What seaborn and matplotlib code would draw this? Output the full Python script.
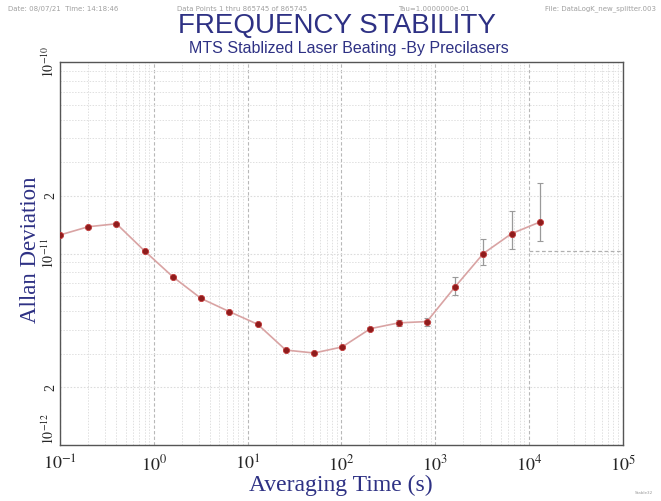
import numpy as np
import pandas as pd
import matplotlib
matplotlib.use("Agg")
import matplotlib.pyplot as plt
import matplotlib.ticker as mticker
import seaborn as sns

# ---- data ----
tau = [0.1, 0.2, 0.4, 0.8, 1.6, 3.2, 6.4, 12.8, 25.6, 51.2, 102.4, 204.8,
       409.6, 819.2, 1638.4, 3276.8, 6553.6, 13107.2]
adev = [1.25e-11, 1.38e-11, 1.43e-11, 1.03e-11, 7.55e-12, 5.82e-12, 4.97e-12,
        4.27e-12, 3.13e-12, 3.02e-12, 3.25e-12, 4.05e-12, 4.34e-12, 4.41e-12,
        6.70e-12, 1.00e-11, 1.27e-11, 1.46e-11]
err_lo = [0, 0, 0, 0, 0, 0, 0, 0, 0, 0, 0.03e-12, 0.06e-12, 0.15e-12, 0.21e-12,
          0.61e-12, 1.25e-12, 0.21e-11, 0.30e-11]
err_hi = [0, 0, 0, 0, 0, 0, 0, 0, 0, 0, 0.03e-12, 0.06e-12, 0.15e-12, 0.21e-12,
          0.82e-12, 1.9e-12, 0.40e-11, 0.88e-11]
ref_level = 1.03e-11
ref_range = [1e4, 1e5]

x_ticks = [1e-1, 1e0, 1e1, 1e2, 1e3, 1e4, 1e5]
x_labels = [r"$10^{-1}$", r"$10^{0}$", r"$10^{1}$", r"$10^{2}$", r"$10^{3}$",
            r"$10^{4}$", r"$10^{5}$"]
y_ticks = [1e-12, 2e-12, 1e-11, 2e-11, 1e-10]
y_labels = [r"$10^{-12}$", "2", r"$10^{-11}$", "2", r"$10^{-10}$"]

header = ["Date: 08/07/21  Time: 14:18:46",
          "Data Points 1 thru 865745 of 865745",
          "Tau=1.0000000e-01",
          "File: DataLogK_new_splitter.003"]
title = "FREQUENCY STABILITY"
subtitle = "MTS Stablized Laser Beating -By Precilasers"

df = pd.DataFrame({"tau": tau, "adev": adev})

sns.set_style("white")
plt.rcParams["mathtext.fontset"] = "stix"
plt.rcParams["font.family"] = ["DejaVu Sans"]

navy = "#2e3184"
fig = plt.figure(figsize=(6.61, 5.01), dpi=100)
ax = fig.add_axes([0.0908, 0.112, 0.851, 0.764])

ax.set_xscale("log")
ax.set_yscale("log")
ax.set_xlim(1e-1, 1e5)
ax.set_ylim(1e-12, 1e-10)

# grids
ax.grid(True, which="minor", axis="both", color="#e0e0e0", linestyle=(0, (1.5, 1.5)), linewidth=0.7)
ax.grid(True, which="major", axis="x", color="#b8b8b8", linestyle=(0, (3, 2)), linewidth=0.8)
ax.grid(True, which="major", axis="y", color="#dcdcdc", linestyle=(0, (1.5, 1.5)), linewidth=0.8)
ax.set_axisbelow(True)

ax.hlines(ref_level, ref_range[0], ref_range[1], colors="#b0b0b0",
          linestyles=(0, (3, 2)), linewidth=0.9)

ax.errorbar(tau, adev, yerr=[err_lo, err_hi], fmt="none", ecolor="#9a9a9a",
            elinewidth=0.9, capsize=2.5, capthick=0.8, zorder=2)
sns.lineplot(data=df, x="tau", y="adev", ax=ax, color="#d9a3a3", linewidth=1.2,
             zorder=3)
sns.scatterplot(data=df, x="tau", y="adev", ax=ax, color="#8e1c1c", s=20,
                edgecolor="#c23a3a", linewidth=0.6, zorder=4)

ax.xaxis.set_major_locator(mticker.FixedLocator(x_ticks))
ax.xaxis.set_major_formatter(mticker.FixedFormatter(x_labels))
ax.xaxis.set_minor_locator(mticker.LogLocator(base=10, subs=np.arange(2, 10), numticks=20))
ax.xaxis.set_minor_formatter(mticker.NullFormatter())
ax.yaxis.set_major_locator(mticker.FixedLocator(y_ticks))
ax.yaxis.set_major_formatter(mticker.FixedFormatter(y_labels))
ax.yaxis.set_minor_locator(mticker.LogLocator(base=10, subs=np.arange(2, 10), numticks=20))
ax.yaxis.set_minor_formatter(mticker.NullFormatter())

ax.tick_params(axis="both", which="both", direction="in", color="#777777")
ax.tick_params(axis="both", which="major", length=5, width=0.8)
ax.tick_params(axis="both", which="minor", length=3, width=0.6)
ax.tick_params(axis="x", which="major", labelsize=13, pad=7)
ax.tick_params(axis="y", which="major", labelsize=10, pad=2)
ylabs = ax.get_yticklabels()
for lab in ylabs:
    lab.set_rotation(90)
    lab.set_va("center")
ylabs[0].set_va("bottom")
for lab in ax.get_xticklabels() + ax.get_yticklabels():
    lab.set_family("Liberation Serif")

for s in ax.spines.values():
    s.set_color("#555555")
    s.set_linewidth(1.0)

ax.set_xlabel("Averaging Time (s)", family="Liberation Serif", fontsize=17,
              color=navy, labelpad=0)
ax.set_ylabel("Allan Deviation", family="Liberation Serif", fontsize=16.5,
              color=navy)
ax.yaxis.set_label_coords(-0.033, 0.51)

# header
hc = "#a0a0a0"
fig.text(0.012, 0.982, header[0], fontsize=5, color=hc, ha="left", va="center")
fig.text(0.268, 0.982, header[1], fontsize=5, color=hc, ha="left", va="center")
fig.text(0.602, 0.982, header[2], fontsize=5, color=hc, ha="left", va="center")
fig.text(0.992, 0.982, header[3], fontsize=5, color=hc, ha="right", va="center")
fig.text(0.51, 0.949, title, fontsize=20, color=navy, ha="center", va="center",
         family="Liberation Sans")
fig.text(0.528, 0.903, subtitle, fontsize=11.5, color=navy, ha="center", va="center",
         family="Liberation Sans")
fig.text(0.988, 0.015, "Stable32", fontsize=3, color="#999999", ha="right", va="center")

fig.savefig("out.png", dpi=100)
